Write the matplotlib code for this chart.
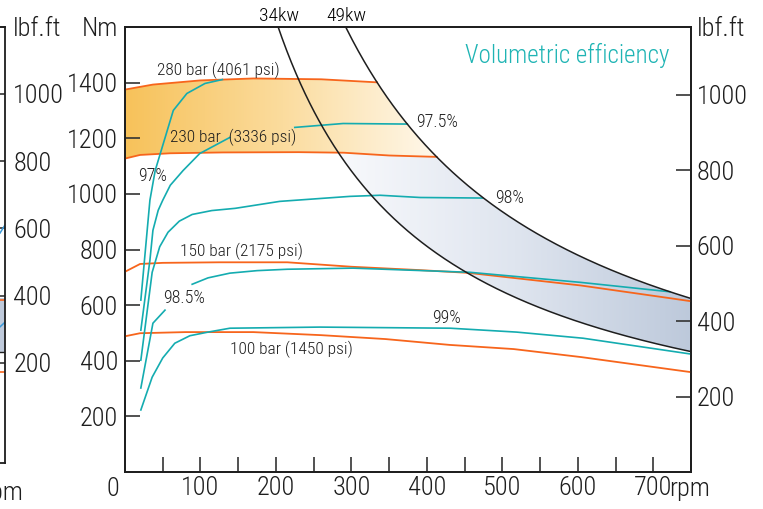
import numpy as np
import matplotlib.pyplot as plt
from matplotlib import font_manager as fm
from matplotlib.colors import LinearSegmentedColormap

# prefer a narrow face for all the lettering
narrow = None
for want in ['Liberation Sans Narrow', 'Roboto Condensed', 'DejaVu Sans', 'Open Sans Condensed',
             'Noto Sans', 'Open Sans']:
    for f in fm.fontManager.ttflist:
        if f.name == want and f.stretch in ('condensed', 'semi-condensed', 'extra-condensed') \
                and f.style == 'normal' or (f.name == want and 'Narrow' in want):
            narrow = f
            break
    if narrow:
        break
if narrow:
    plt.rcParams['font.family'] = [narrow.name, 'DejaVu Sans']
    plt.rcParams['font.stretch'] = narrow.stretch
    NARROW = True
else:
    plt.rcParams['font.family'] = ['Liberation Sans', 'DejaVu Sans']
    NARROW = False
plt.rcParams['font.weight'] = 'light'

NM_PER_LBFFT = 1.35582

# torque at constant pressure (rpm, Nm)
bar280_rpm = [0, 37, 100, 170, 260, 334]
bar280_nm = [1375, 1393, 1408, 1415, 1412, 1401]
bar230_rpm = [0, 20, 60, 130, 230, 290, 350, 413]
bar230_nm = [1127, 1140, 1146, 1149, 1150, 1148, 1138, 1133]
bar150_rpm = [0, 20, 50, 125, 215, 300, 390, 455, 603, 722, 750]
bar150_nm = [720, 748, 752, 754, 754, 738, 726, 716, 671, 625, 614]
bar100_rpm = [0, 20, 80, 170, 260, 345, 430, 515, 605, 750]
bar100_nm = [488, 499, 503, 503, 492, 478, 457, 442, 413, 359]

# volumetric efficiency curves (nan = gap behind a label)
eff97_rpm = [21, 33, 40, 48, 64, 82, 106, 129]
eff97_nm = [618, 977, 1084, 1156, 1300, 1361, 1397, 1411]
eff975_rpm = [21, 33, 37, 44, 50, 60, 77, 99, 139, np.nan, 225, 289, 374]
eff975_nm = [510, 761, 869, 941, 977, 1031, 1084, 1145, 1203, np.nan, 1239, 1253, 1251]
eff98_rpm = [21, 36, 46, 57, 72, 89, 115, 146, 205, 298, 338, 391, 474]
eff98_nm = [402, 718, 810, 862, 902, 926, 940, 948, 973, 991, 995, 987, 985]
eff985_rpm = [21, 37, 53, np.nan, 89, 110, 139, 175, 215, 302, 457, 603, 722]
eff985_nm = [302, 535, 582, np.nan, 675, 698, 715, 724, 729, 733, 718, 682, 648]
eff99_rpm = [21, 36, 50, 66, 86, 110, 139, 258, 431, 519, 607, 750]
eff99_nm = [223, 341, 410, 463, 490, 503, 517, 521, 517, 503, 481, 424]

# power limits, kW
power_kw = [34, 49]

# neighbouring chart edge (lbf.ft)
strip_x = [0, 1]
strip_band_top = [393, 393]
strip_band_bot = [232, 232]
strip_orange_a = [387, 387]
strip_orange_b = [173, 173]
strip_blue_a = [586, 610]
strip_blue_b = [307, 321]

ORANGE = '#f7651c'
TEAL = '#14acb0'
INK = '#1e1e1e'
FS_TICK = 19 if NARROW else 16
FS_LAB = 12.5 if NARROW else 11
FS_PCT = 13 if NARROW else 11


def torque(kw, rpm):
    return kw * 1000 * 60 / (2 * np.pi * rpm)


def gradient_fill(ax, px, py, colors, x0, x1, y0, y1):
    cmap = LinearSegmentedColormap.from_list('grad', colors)
    patch = ax.fill(px, py, facecolor='none', edgecolor='none')[0]
    grad = np.linspace(0, 1, 256).reshape(1, -1)
    im = ax.imshow(grad, cmap=cmap, extent=[x0, x1, y0, y1], aspect='auto',
                   origin='lower', zorder=1, interpolation='bilinear')
    im.set_clip_path(patch)


fig = plt.figure(figsize=(7.63, 5.09), dpi=100)
ax = fig.add_axes([125 / 763, 37 / 509, 566 / 763, 445 / 509])

# orange band between 230 and 280 bar, bounded by 49 kW
n_edge = np.linspace(bar280_rpm[-1], bar230_rpm[-1], 50)
ox = list(bar280_rpm) + list(n_edge) + list(bar230_rpm[::-1])
oy = list(bar280_nm) + list(torque(power_kw[1], n_edge)) + list(bar230_nm[::-1])
gradient_fill(ax, ox, oy, ['#f7c25a', '#fbdc9e', '#fff9ee'], 0, 420, 1000, 1500)

# grey-blue band between the power curves, below 230 bar
n_all = np.linspace(200, 750, 2000)
low = torque(power_kw[0], n_all)
up = np.minimum(torque(power_kw[1], n_all),
                np.interp(n_all, bar230_rpm, bar230_nm, right=np.inf))
ok = low <= up
bx = np.concatenate([n_all[ok], n_all[ok][::-1]])
by = np.concatenate([up[ok], low[ok][::-1]])
gradient_fill(ax, bx, by, ['#f8f9fc', '#dfe5ef', '#bdc9db'], 283, 750, 300, 1200)

for r, t in [(bar280_rpm, bar280_nm), (bar230_rpm, bar230_nm),
             (bar150_rpm, bar150_nm), (bar100_rpm, bar100_nm)]:
    ax.plot(r, t, color=ORANGE, lw=1.3, zorder=3)

for r, t in [(eff97_rpm, eff97_nm), (eff975_rpm, eff975_nm), (eff98_rpm, eff98_nm),
             (eff985_rpm, eff985_nm), (eff99_rpm, eff99_nm)]:
    ax.plot(r, t, color=TEAL, lw=1.2, zorder=4)

n_pow = np.linspace(150, 760, 400)
for kw in power_kw:
    ax.plot(n_pow, torque(kw, n_pow), color=INK, lw=1.1, zorder=5)

ax.text(204, 1641, '34kw', fontsize=14, ha='center', va='center', clip_on=False)
ax.text(293, 1641, '49kw', fontsize=14, ha='center', va='center', clip_on=False)

labels = [
    (42, 1443, '280 bar (4061 psi)', FS_LAB),
    (60, 1203, '230 bar  (3336 psi)', FS_LAB),
    (73, 794, '150 bar (2175 psi)', FS_LAB),
    (139, 442, '100 bar (1450 psi)', FS_LAB),
    (17, 1066, '97%', FS_PCT),
    (386, 1260, '97.5%', FS_PCT),
    (490, 984, '98%', FS_PCT),
    (50, 625, '98.5%', FS_PCT),
    (407, 553, '99%', FS_PCT),
]
for x, y, s, fs in labels:
    ax.text(x, y, s, fontsize=fs, ha='left', va='center', color=INK, zorder=6)

ax.text(722, 1497, 'Volumetric efficiency', fontsize=18, color='#1fb4b4',
        ha='right', va='center', zorder=6)

ax.set_xlim(0, 750)
ax.set_ylim(0, 1600)
xt = np.arange(50, 751, 50)
ax.set_xticks(xt)
ax.set_xticklabels([str(v) if v % 100 == 0 and v < 750 else '' for v in xt])
ax.set_yticks([200, 400, 600, 800, 1000, 1200, 1400, 1600])
ax.set_yticklabels(['200', '400', '600', '800', '1000', '1200', '1400', 'Nm'])
ax.tick_params(direction='in', length=11, width=1.2, color='#333333',
               labelsize=FS_TICK, labelcolor=INK, pad=5)
ax.tick_params(axis='x', pad=3)
for sp in ax.spines.values():
    sp.set_linewidth(1.3)
    sp.set_color(INK)

ax.text(-16, -0.012, '0', transform=ax.get_xaxis_transform(), fontsize=FS_TICK,
        ha='center', va='top', color=INK)
ax.text(721, -0.012, 'rpm', transform=ax.get_xaxis_transform(), fontsize=FS_TICK,
        ha='left', va='top', color=INK)

ax2 = ax.twinx()
top_lbf = 1600 / NM_PER_LBFFT
ax2.set_ylim(0, top_lbf)
ax2.set_yticks([200, 400, 600, 800, 1000, top_lbf])
ax2.set_yticklabels(['200', '400', '600', '800', '1000', 'lbf.ft'])
ax2.tick_params(direction='in', length=11, width=1.2, color='#333333',
                labelsize=FS_TICK, labelcolor=INK, pad=4)
for sp in ax2.spines.values():
    sp.set_linewidth(1.3)
    sp.set_color(INK)

# edge of the neighbouring chart on the left
axl = fig.add_axes([0, 46 / 509, 5 / 763, 436 / 509])
axl.fill_between(strip_x, strip_band_bot, strip_band_top, color='#bfcadb', lw=0)
axl.plot(strip_x, strip_band_bot, color=INK, lw=1.0)
axl.plot(strip_x, strip_orange_a, color=ORANGE, lw=1.2)
axl.plot(strip_x, strip_orange_b, color=ORANGE, lw=1.2)
axl.plot(strip_x, strip_blue_a, color='#3a9ad9', lw=1.1)
axl.plot(strip_x, strip_blue_b, color='#3a9ad9', lw=1.1)
axl.set_xlim(0, 1)
axl.set_ylim(-98, 1199)
axl.set_xticks([])
axl.yaxis.tick_right()
axl.set_yticks([200, 400, 600, 800, 1000, 1199])
axl.set_yticklabels(['200', '400', '600', '800', '1000', 'lbf.ft'])
axl.tick_params(direction='in', length=11, width=1.2, color='#333333',
                labelsize=FS_TICK, labelcolor=INK, pad=6)
axl.spines['left'].set_visible(False)
for sp in axl.spines.values():
    sp.set_linewidth(1.3)
    sp.set_color(INK)
fig.text(23 / 763, 1 - 493 / 509, 'rpm', fontsize=FS_TICK, ha='right', va='center', color=INK)

fig.savefig('out.png', dpi=100)
